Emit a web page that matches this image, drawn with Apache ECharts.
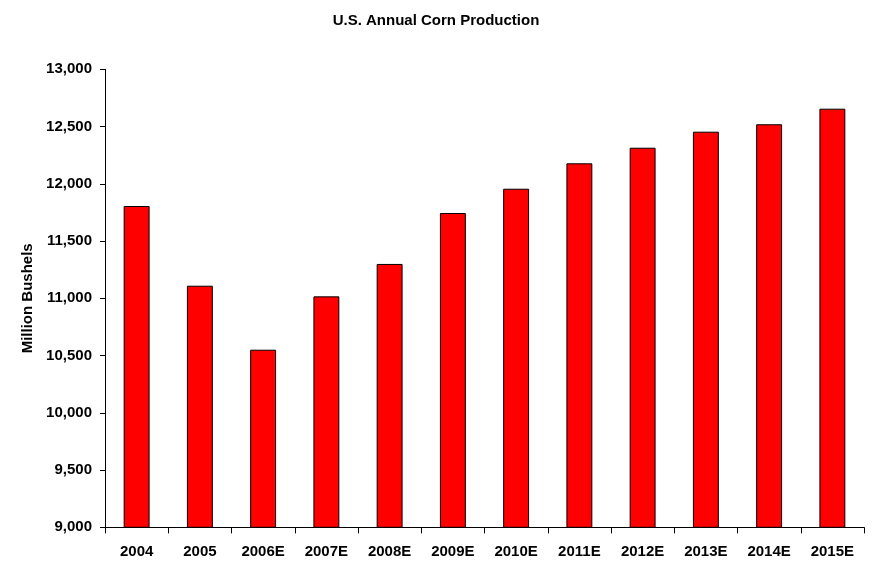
<!DOCTYPE html>
<html>
<head>
<meta charset="utf-8">
<script src="https://cdn.jsdelivr.net/npm/echarts@6/dist/echarts.min.js"></script>
<style>
html,body{margin:0;padding:0;background:#fff;}
#chart{width:872px;height:565px;}
</style>
</head>
<body>
<div id="chart"></div>
<script>
const categories = ['2004','2005','2006E','2007E','2008E','2009E','2010E','2011E','2012E','2013E','2014E','2015E'];
const production = [11806, 11110, 10551, 11017, 11300, 11745, 11957, 12179, 12315, 12455, 12520, 12656];
const titleText = 'U.S. Annual Corn Production';
const yAxisName = 'Million Bushels';

const FONT = '"Liberation Sans Narrow", "Arial Narrow", "Liberation Sans", sans-serif';
const chart = echarts.init(document.getElementById('chart'), null, {renderer: 'canvas'});
chart.setOption({
  animation: false,
  backgroundColor: '#ffffff',
  title: {
    text: titleText,
    left: 'center',
    top: 8,
    textStyle: {fontFamily: FONT, fontSize: 15, fontWeight: 'bold', color: '#000'}
  },
  grid: {left: 105, right: 8, top: 69.3, bottom: 37.7, containLabel: false},
  xAxis: {
    type: 'category',
    data: categories,
    boundaryGap: true,
    axisLine: {lineStyle: {color: '#000', width: 1}},
    axisTick: {show: true, alignWithLabel: false, length: 6, lineStyle: {color: '#000'}},
    axisLabel: {fontFamily: FONT, fontSize: 15, fontWeight: 'bold', color: '#000', margin: 17, interval: 0}
  },
  yAxis: {
    type: 'value',
    min: 9000,
    max: 13000,
    interval: 500,
    name: yAxisName,
    nameLocation: 'middle',
    nameRotate: 90,
    nameGap: 65,
    nameTextStyle: {fontFamily: FONT, fontSize: 15, fontWeight: 'bold', color: '#000'},
    axisLine: {show: true, lineStyle: {color: '#000', width: 1}},
    axisTick: {show: true, inside: false, length: 5, lineStyle: {color: '#000'}},
    splitLine: {show: false},
    axisLabel: {
      fontFamily: FONT, fontSize: 15, fontWeight: 'bold', color: '#000', margin: 13,
      formatter: v => v.toLocaleString('en-US')
    }
  },
  series: [{
    type: 'bar',
    data: production,
    barWidth: '41%',
    itemStyle: {color: '#ff0000', borderColor: '#000', borderWidth: 1}
  }]
});
</script>
</body>
</html>
